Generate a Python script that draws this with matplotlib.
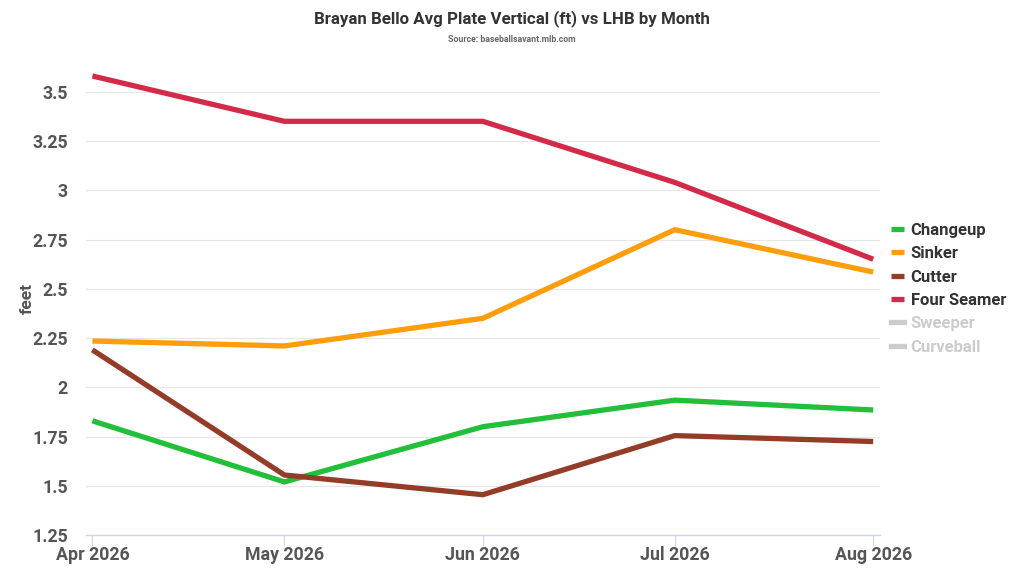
import matplotlib
matplotlib.use('Agg')
import matplotlib.pyplot as plt
import numpy as np
import datetime as dt

plt.rcParams['font.family'] = ['Roboto', 'DejaVu Sans']

months = [dt.date(2026, 4, 1), dt.date(2026, 5, 1), dt.date(2026, 6, 1),
          dt.date(2026, 7, 1), dt.date(2026, 8, 1)]
month_labels = ['Apr 2026', 'May 2026', 'Jun 2026', 'Jul 2026', 'Aug 2026']

changeup = [1.83, 1.52, 1.80, 1.935, 1.885]
sinker = [2.235, 2.21, 2.35, 2.80, 2.585]
cutter = [2.19, 1.555, 1.455, 1.755, 1.725]
four_seamer = [3.58, 3.35, 3.35, 3.04, 2.65]

series = [
    ('Changeup', changeup, '#22bf3a'),
    ('Sinker', sinker, '#ff9d0b'),
    ('Cutter', cutter, '#933c27'),
    ('Four Seamer', four_seamer, '#d42a4a'),
]
hidden = ['Sweeper', 'Curveball']

fig = plt.figure(figsize=(10.24, 5.76), dpi=100)
ax = fig.add_axes([0.084, 0.071, 0.775, 0.821])

for name, vals, color in series:
    ax.plot(months, vals, color=color, lw=3.8, label=name,
            solid_joinstyle='miter', solid_capstyle='butt', zorder=3)
for name in hidden:
    ax.plot([], [], color='#cccccc', lw=3.8, label=name)

ax.set_xlim(dt.date(2026, 3, 31), dt.date(2026, 8, 2))
ax.set_ylim(1.25, 3.65)
ax.set_xticks(months)
ax.set_xticklabels(month_labels)
yt = [1.25, 1.5, 1.75, 2, 2.25, 2.5, 2.75, 3, 3.25, 3.5]
ax.set_yticks(yt)
ax.set_yticklabels(['1.25', '1.5', '1.75', '2', '2.25', '2.5', '2.75', '3', '3.25', '3.5'])

ax.grid(axis='y', color='#e6e6e6', lw=0.8)
ax.set_axisbelow(True)
for s in ['top', 'right', 'left']:
    ax.spines[s].set_visible(False)
ax.spines['bottom'].set_color('#ccd6eb')
ax.spines['bottom'].set_linewidth(1)
ax.tick_params(axis='y', length=0, pad=13, labelsize=12.8, labelcolor='#555555')
ax.tick_params(axis='x', length=8, color='#ccd6eb', pad=0, labelsize=12.8,
               labelcolor='#555555')
for lab in ax.get_xticklabels() + ax.get_yticklabels():
    lab.set_fontweight('bold')

ax.set_ylabel('feet', fontsize=12.5, fontweight='bold', color='#555555')
ax.yaxis.set_label_coords(-0.064, 0.5)

fig.text(0.5, 0.967, 'Brayan Bello Avg Plate Vertical (ft) vs LHB by Month',
         ha='center', va='center', fontsize=12.2, fontweight='bold', color='#333333')
fig.text(0.5, 0.932, 'Source: baseballsavant.mlb.com', ha='center', va='center',
         fontsize=6.3, fontweight='bold', color='#666666')

leg = ax.legend(loc='center left', bbox_to_anchor=(0.995, 0.521), frameon=False,
                handlelength=0.8, handletextpad=0.4, labelspacing=0.5,
                prop={'weight': 'bold', 'size': 12})
for text in leg.get_texts():
    if text.get_text() in hidden:
        text.set_color('#cccccc')
    else:
        text.set_color('#333333')

fig.savefig('out.png', dpi=100)
